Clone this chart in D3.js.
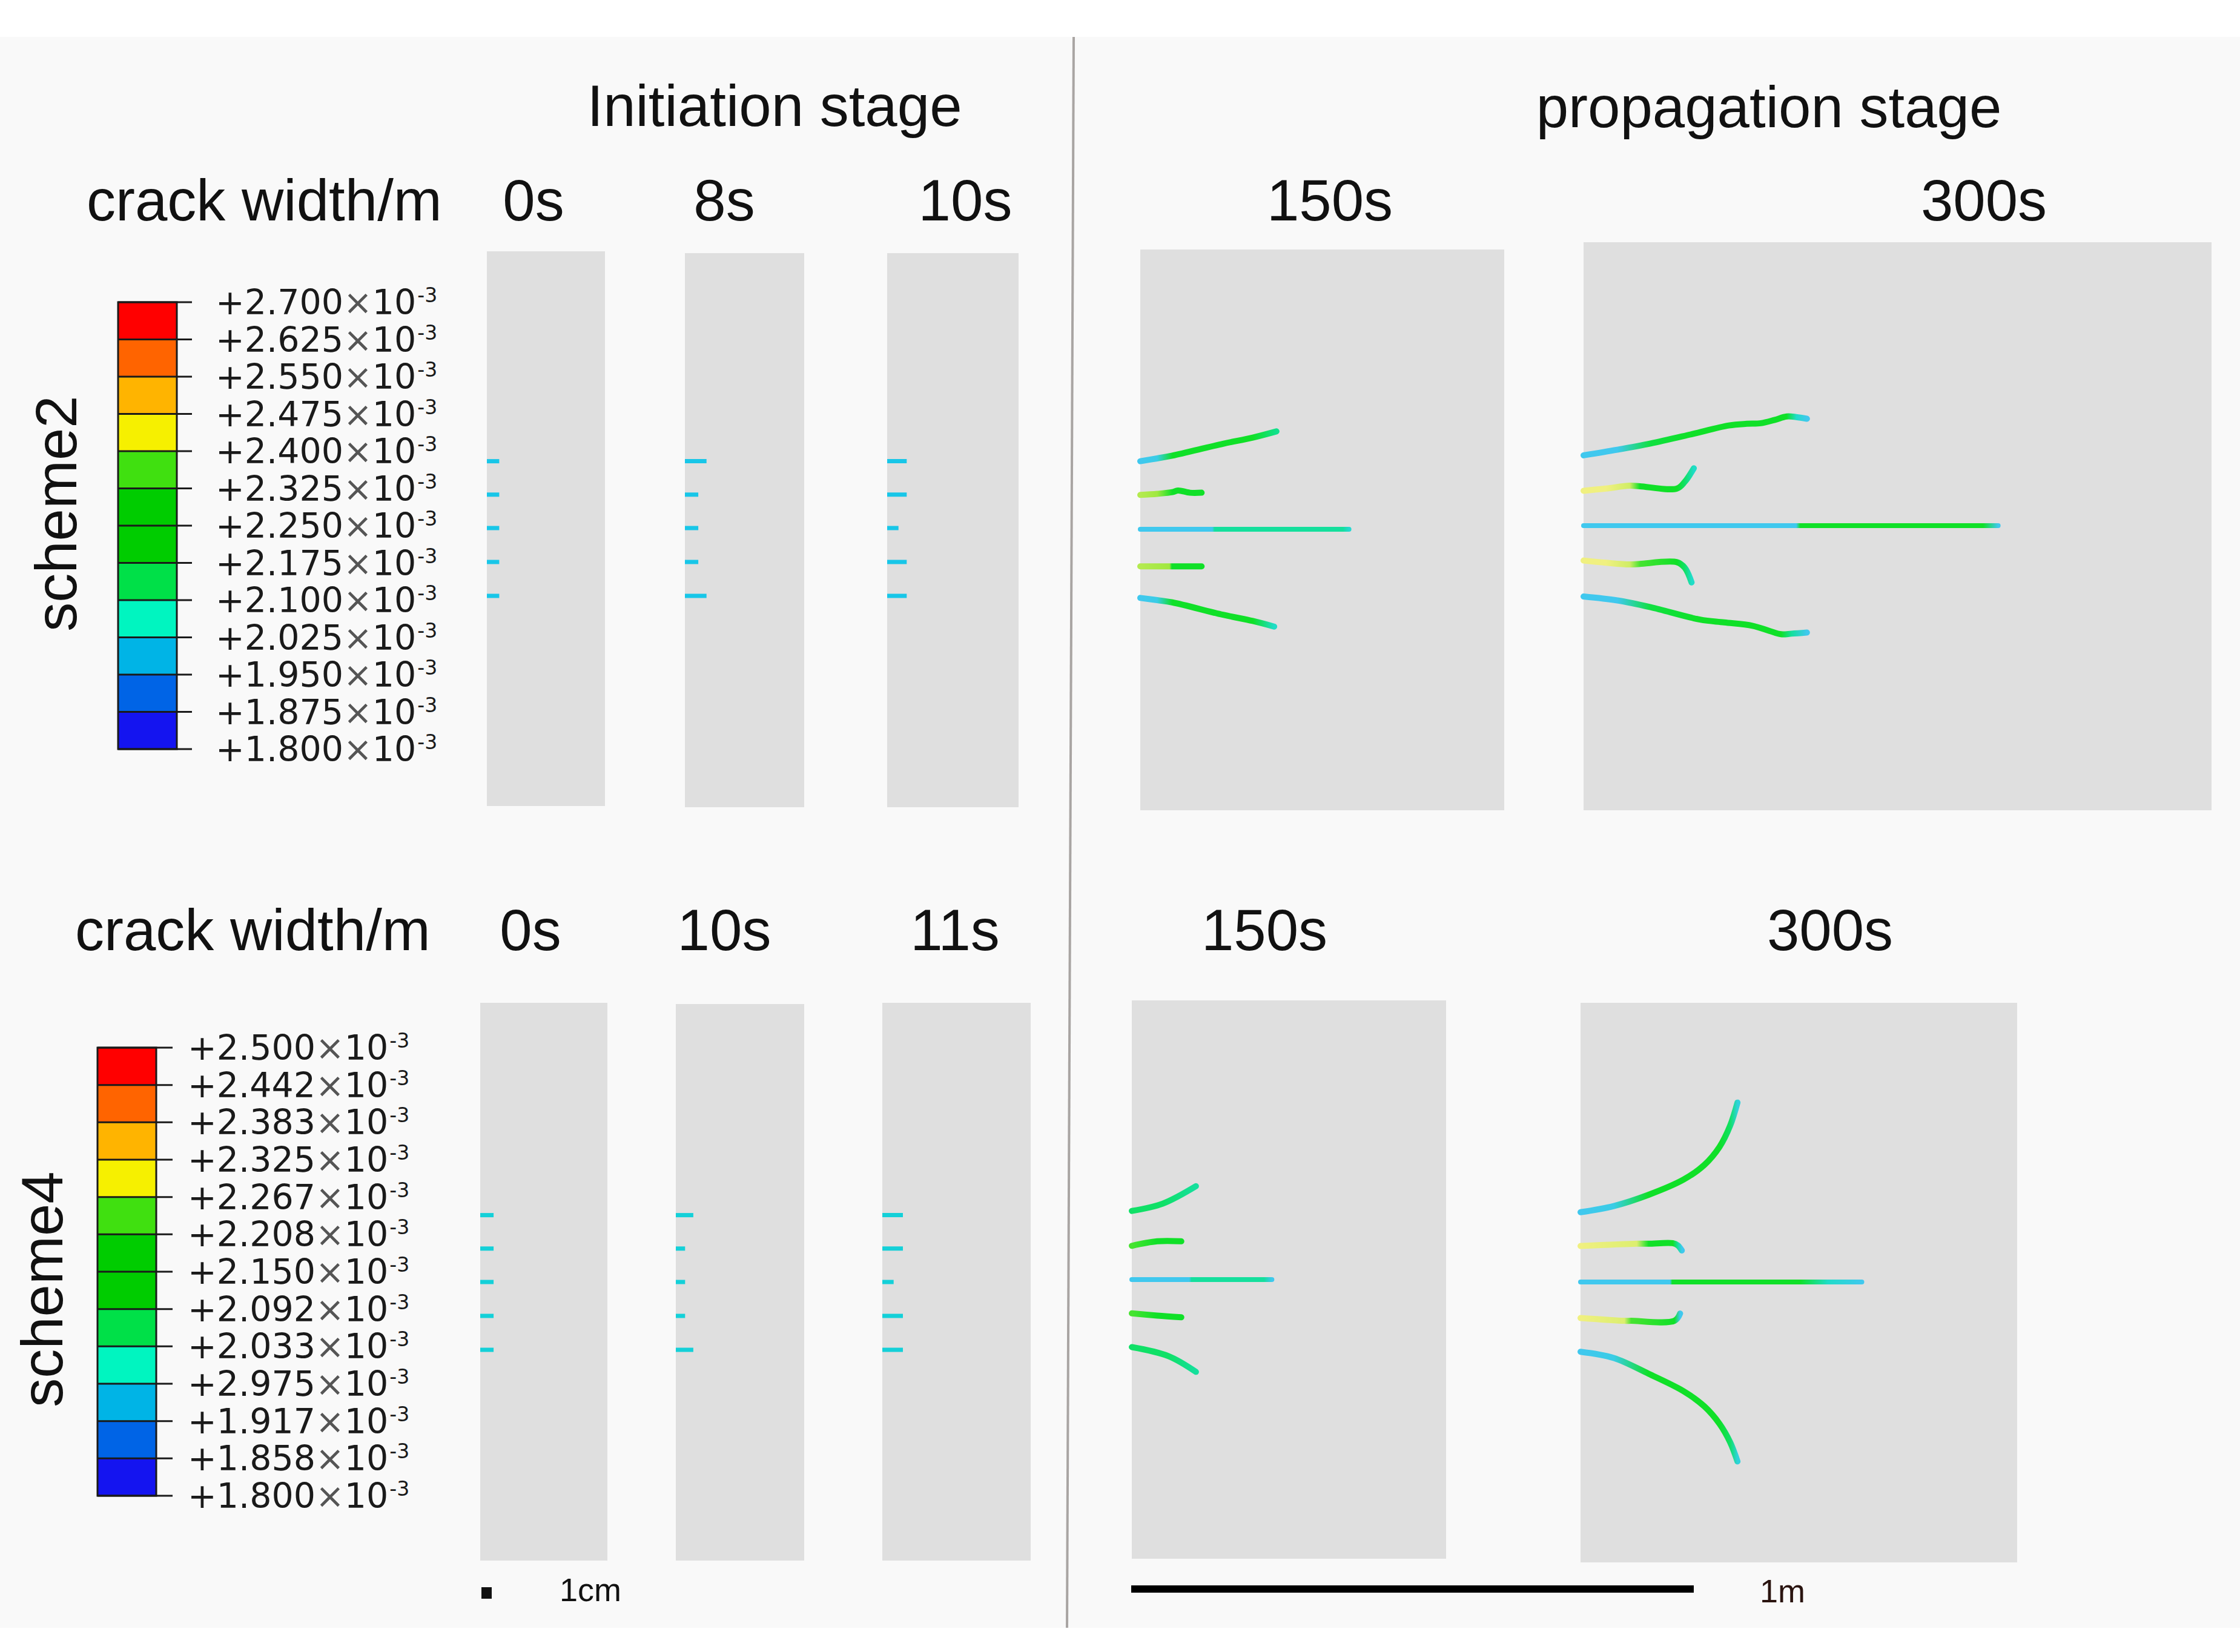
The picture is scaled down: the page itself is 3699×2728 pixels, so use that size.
<!DOCTYPE html>
<html>
<head>
<meta charset="utf-8">
<script src="https://cdn.jsdelivr.net/npm/d3@7"></script>
<style>
  body { margin: 0; background: #fff; }
</style>
</head>
<body>
<svg id="chart"></svg>
<script>
const W = 3699, H = 2728;

// colour legend, crack width in units of 10^-3 m (top to bottom, as printed)
const scheme2Ticks = ["2.700", "2.625", "2.550", "2.475", "2.400", "2.325", "2.250",
  "2.175", "2.100", "2.025", "1.950", "1.875", "1.800"];
const scheme4Ticks = ["2.500", "2.442", "2.383", "2.325", "2.267", "2.208", "2.150",
  "2.092", "2.033", "2.975", "1.917", "1.858", "1.800"];
const bandColors = ["#ff0000", "#ff6400", "#ffb400", "#f6f000", "#40e010", "#00cc00",
  "#00cc00", "#00e048", "#00f5c0", "#00b4e6", "#0064e6", "#1414f0"];

// snapshot times
const scheme2Times = ["0s", "8s", "10s", "150s", "300s"];
const scheme4Times = ["0s", "10s", "11s", "150s", "300s"];

// initiation stage: length (cm) of the five initiated cracks, top to bottom
const initOffsets = [-6.9, -3.45, 0, 3.5, 7.0]; // cm from centre line
const scheme2Init = [
  [1.2, 1.2, 1.2, 1.2, 1.2],
  [2.1, 1.3, 1.3, 1.3, 2.1],
  [1.9, 1.9, 1.1, 1.9, 1.9]
];
const scheme4Init = [
  [1.3, 1.3, 1.3, 1.3, 1.3],
  [1.7, 0.9, 0.9, 0.9, 1.7],
  [2.0, 2.0, 1.1, 2.0, 2.0]
];

// propagation stage cracks: [x m from wellbore, y m from centre, crack width 10^-3 m]
const s2Prop150 = [
  [[0, -0.121, 1.95], [0.03, -0.126, 1.97], [0.057, -0.131, 2.2], [0.147, -0.152, 2.2], [0.2, -0.163, 2.2], [0.242, -0.174, 2.12]],
  [[0, -0.061, 2.36], [0.03, -0.063, 2.33], [0.057, -0.066, 2.2], [0.067, -0.069, 2.2], [0.088, -0.065, 2.2], [0.109, -0.065, 2.2]],
  [[0, 0, 1.95], [0.128, 0, 1.95], [0.132, 0, 2.1], [0.36, 0, 2.1], [0.371, 0, 2.03]],
  [[0, 0.066, 2.36], [0.052, 0.066, 2.33], [0.056, 0.066, 2.2], [0.109, 0.066, 2.2]],
  [[0, 0.122, 1.95], [0.03, 0.126, 1.97], [0.057, 0.130, 2.2], [0.147, 0.152, 2.2], [0.2, 0.163, 2.2], [0.238, 0.173, 2.05]]
];
const s2Prop300 = [
  [[0, -0.125, 1.95], [0.06, -0.135, 1.95], [0.119, -0.146, 2.18], [0.19, -0.162, 2.2], [0.258, -0.178, 2.2], [0.29, -0.181, 2.2],
   [0.315, -0.182, 2.2], [0.34, -0.188, 2.2], [0.361, -0.194, 2.2], [0.378, -0.193, 2.05], [0.397, -0.190, 1.95]],
  [[0, -0.062, 2.45], [0.04, -0.066, 2.45], [0.082, -0.071, 2.4], [0.1, -0.070, 2.2], [0.166, -0.066, 2.2], [0.18, -0.078, 2.15], [0.196, -0.102, 2.05]],
  [[0, 0, 1.95], [0.378, 0, 1.95], [0.385, 0, 2.2], [0.71, 0, 2.2], [0.737, 0, 1.95]],
  [[0, 0.062, 2.45], [0.04, 0.066, 2.45], [0.082, 0.069, 2.4], [0.1, 0.068, 2.25], [0.166, 0.065, 2.2], [0.18, 0.075, 2.15], [0.192, 0.101, 2.05]],
  [[0, 0.126, 1.95], [0.06, 0.133, 1.95], [0.119, 0.145, 2.18], [0.207, 0.167, 2.2], [0.25, 0.172, 2.2], [0.3, 0.178, 2.2],
   [0.33, 0.187, 2.2], [0.351, 0.193, 2.2], [0.37, 0.192, 2.1], [0.397, 0.190, 1.95]]
];
const s4Prop150 = [
  [[0, -0.122, 2.15], [0.055, -0.135, 2.15], [0.114, -0.166, 2.1]],
  [[0, -0.060, 2.25], [0.045, -0.068, 2.2], [0.088, -0.068, 2.2]],
  [[0, 0, 1.95], [0.102, 0, 1.95], [0.106, 0, 2.1], [0.235, 0, 2.1], [0.249, 0, 1.95]],
  [[0, 0.060, 2.25], [0.045, 0.064, 2.2], [0.088, 0.067, 2.2]],
  [[0, 0.120, 2.15], [0.065, 0.136, 2.15], [0.114, 0.164, 2.1]]
];
const s4Prop300 = [
  [[0, -0.124, 1.95], [0.059, -0.135, 1.97], [0.121, -0.155, 2.2], [0.183, -0.182, 2.2], [0.22, -0.208, 2.2],
   [0.247, -0.24, 2.2], [0.266, -0.278, 2.15], [0.279, -0.319, 2.0]],
  [[0, -0.064, 2.45], [0.1, -0.068, 2.42], [0.121, -0.068, 2.2], [0.164, -0.069, 2.2], [0.173, -0.065, 2.1], [0.180, -0.056, 1.95]],
  [[0, 0, 1.95], [0.159, 0, 1.95], [0.163, 0, 2.2], [0.39, 0, 2.2], [0.44, 0, 2.05], [0.5, 0, 1.95]],
  [[0, 0.064, 2.45], [0.078, 0.069, 2.42], [0.09, 0.069, 2.25], [0.167, 0.069, 2.2], [0.177, 0.056, 1.95]],
  [[0, 0.124, 1.95], [0.059, 0.135, 1.97], [0.121, 0.163, 2.2], [0.183, 0.194, 2.2], [0.22, 0.221, 2.2],
   [0.247, 0.252, 2.2], [0.266, 0.285, 2.15], [0.279, 0.319, 2.0]]
];

// page layout (pixels)
const PX_PER_CM = 17;   // initiation panels
const PX_PER_M = 929;   // propagation panels
const rows = [
  {
    name: "scheme2", times: scheme2Times, ticks: scheme2Ticks, init: scheme2Init, prop: [s2Prop150, s2Prop300],
    labelY: 364, legendX: 143, nameX: 126, nameY: 848,
    bar: { x0: 195, x1: 292, y0: 499, y1: 1237, tickEnd: 317, textX: 356 },
    timeX: [881, 1196, 1594, 2196, 3276],
    panels: [[804, 999, 415, 1331], [1131, 1328, 418, 1333], [1465, 1682, 418, 1333], [1883, 2484, 412, 1338], [2615, 3652, 400, 1338]],
    centre: [872, 872, 872, 874, 868]
  },
  {
    name: "scheme4", times: scheme4Times, ticks: scheme4Ticks, init: scheme4Init, prop: [s4Prop150, s4Prop300],
    labelY: 1569, legendX: 124, nameX: 103, nameY: 2129,
    bar: { x0: 161, x1: 258, y0: 1730, y1: 2470, tickEnd: 285, textX: 310 },
    timeX: [876, 1196, 1577, 2088, 3022],
    panels: [[793, 1003, 1656, 2577], [1116, 1328, 1658, 2577], [1457, 1702, 1656, 2577], [1869, 2388, 1652, 2574], [2610, 3331, 1656, 2580]],
    centre: [2117, 2117, 2117, 2113, 2117]
  }
];

const sans = "'Liberation Sans', Arial, Helvetica, sans-serif";
const legendFont = "'DejaVu Sans', Verdana, sans-serif";

const svg = d3.select("#chart").attr("width", W).attr("height", H);
const defs = svg.append("defs");

svg.append("rect").attr("width", W).attr("height", H).attr("fill", "#fff");
svg.append("rect").attr("x", 0).attr("y", 61).attr("width", W).attr("height", 2627).attr("fill", "#f9f9f9");
svg.append("line")
  .attr("x1", 1773).attr("y1", 61).attr("x2", 1762).attr("y2", 2688)
  .attr("stroke", "#a9a5a3").attr("stroke-width", 4);

// stage titles
svg.append("text").attr("x", 1279).attr("y", 208).attr("text-anchor", "middle")
  .attr("font-family", sans).attr("font-size", 96).attr("fill", "#111").text("Initiation stage");
svg.append("text").attr("x", 2921).attr("y", 210).attr("text-anchor", "middle")
  .attr("font-family", sans).attr("font-size", 96).attr("fill", "#111").text("propagation stage");

const crackColor = d3.scaleLinear()
  .domain([1.95, 2.05, 2.12, 2.2, 2.33, 2.45])
  .range(["#40c8ee", "#20dcc8", "#10e08c", "#10e028", "#a0e840", "#f0f080"])
  .clamp(true);
const crackLine = d3.line().curve(d3.curveCatmullRom.alpha(0.5));

rows.forEach((row, r) => {
  // headings
  svg.append("text").attr("x", row.legendX).attr("y", row.labelY)
    .attr("font-family", sans).attr("font-size", 96).attr("fill", "#111").text("crack width/m");
  row.times.forEach((t, i) => {
    svg.append("text").attr("x", row.timeX[i]).attr("y", row.labelY).attr("text-anchor", "middle")
      .attr("font-family", sans).attr("font-size", 96).attr("fill", "#111").text(t);
  });
  svg.append("text").attr("transform", `translate(${row.nameX},${row.nameY}) rotate(-90)`)
    .attr("text-anchor", "middle").attr("font-family", sans).attr("font-size", 96)
    .attr("fill", "#111").text(row.name);

  // colour bar
  const b = row.bar;
  const ty = d3.scalePoint().domain(row.ticks).range([b.y0, b.y1]);
  const bar = svg.append("g");
  bar.selectAll("rect.band").data(bandColors).join("rect")
    .attr("x", b.x0).attr("width", b.x1 - b.x0)
    .attr("y", (d, i) => ty(row.ticks[i]))
    .attr("height", (d, i) => ty(row.ticks[i + 1]) - ty(row.ticks[i]))
    .attr("fill", d => d);
  bar.selectAll("line").data(row.ticks).join("line")
    .attr("x1", b.x0).attr("x2", b.tickEnd)
    .attr("y1", d => ty(d)).attr("y2", d => ty(d))
    .attr("stroke", "#1a1a1a").attr("stroke-width", 3);
  bar.append("rect").attr("x", b.x0).attr("y", b.y0).attr("width", b.x1 - b.x0).attr("height", b.y1 - b.y0)
    .attr("fill", "none").attr("stroke", "#1a1a1a").attr("stroke-width", 3);
  const lab = bar.selectAll("text").data(row.ticks).join("text")
    .attr("x", b.textX).attr("y", d => ty(d) + 20)
    .attr("font-family", legendFont).attr("font-size", 57).attr("fill", "#1a1a1a");
  lab.append("tspan").text(d => "+" + d);
  lab.append("tspan").attr("fill", "#555").text("×");
  lab.append("tspan").text("10");
  lab.append("tspan").attr("font-size", 33).attr("dx", 2).attr("dy", -20).text("-3");

  // specimen panels
  svg.selectAll(null).data(row.panels).join("rect")
    .attr("x", d => d[0]).attr("y", d => d[2])
    .attr("width", d => d[1] - d[0]).attr("height", d => d[3] - d[2])
    .attr("fill", "#dfdfdf");

  // initiation stage
  row.init.forEach((lens, i) => {
    const p = row.panels[i], c = row.centre[i];
    const x = d3.scaleLinear().domain([0, 1]).range([p[0], p[0] + PX_PER_CM]);
    const y = d3.scaleLinear().domain([0, 1]).range([c, c + 16]);
    svg.selectAll(null).data(lens).join("line")
      .attr("x1", x(0)).attr("x2", d => x(d))
      .attr("y1", (d, k) => y(initOffsets[k])).attr("y2", (d, k) => y(initOffsets[k]))
      .attr("stroke", r === 0 ? "#18c6e8" : "#14d0d8").attr("stroke-width", 7);
  });

  // propagation stage
  row.prop.forEach((cracks, j) => {
    const i = j + 3, p = row.panels[i], c = row.centre[i];
    const x = d3.scaleLinear().domain([0, 1]).range([p[0], p[0] + PX_PER_M]);
    const y = d3.scaleLinear().domain([0, 1]).range([c, c + PX_PER_M]);
    cracks.forEach((pts, k) => {
      const xs = pts.map(d => x(d[0]));
      const x0 = d3.min(xs), x1 = d3.max(xs);
      const id = `crack-${r}-${j}-${k}`;
      const grad = defs.append("linearGradient").attr("id", id)
        .attr("gradientUnits", "userSpaceOnUse")
        .attr("x1", x0).attr("x2", x1).attr("y1", 0).attr("y2", 0);
      grad.selectAll("stop").data(pts).join("stop")
        .attr("offset", d => (x(d[0]) - x0) / (x1 - x0))
        .attr("stop-color", d => crackColor(d[2]));
      svg.append("path")
        .attr("d", crackLine(pts.map(d => [x(d[0]), y(d[1])])))
        .attr("fill", "none").attr("stroke", `url(#${id})`)
        .attr("stroke-width", k === 2 ? 8 : 10).attr("stroke-linecap", "round");
    });
  });
});

// scale bars
const cm = d3.scaleLinear().domain([0, 1]).range([795, 795 + PX_PER_CM]);
svg.append("rect").attr("x", cm(0)).attr("y", 2621).attr("width", cm(1) - cm(0)).attr("height", 19).attr("fill", "#111");
svg.append("text").attr("x", 924).attr("y", 2644).attr("font-family", sans).attr("font-size", 54)
  .attr("fill", "#111").text("1cm");
const m = d3.scaleLinear().domain([0, 1]).range([1868, 1868 + PX_PER_M]);
svg.append("rect").attr("x", m(0)).attr("y", 2618).attr("width", m(1) - m(0)).attr("height", 12).attr("fill", "#000");
svg.append("text").attr("x", 2906).attr("y", 2646).attr("font-family", sans).attr("font-size", 54)
  .attr("fill", "#2a1410").text("1m");
</script>
</body>
</html>
